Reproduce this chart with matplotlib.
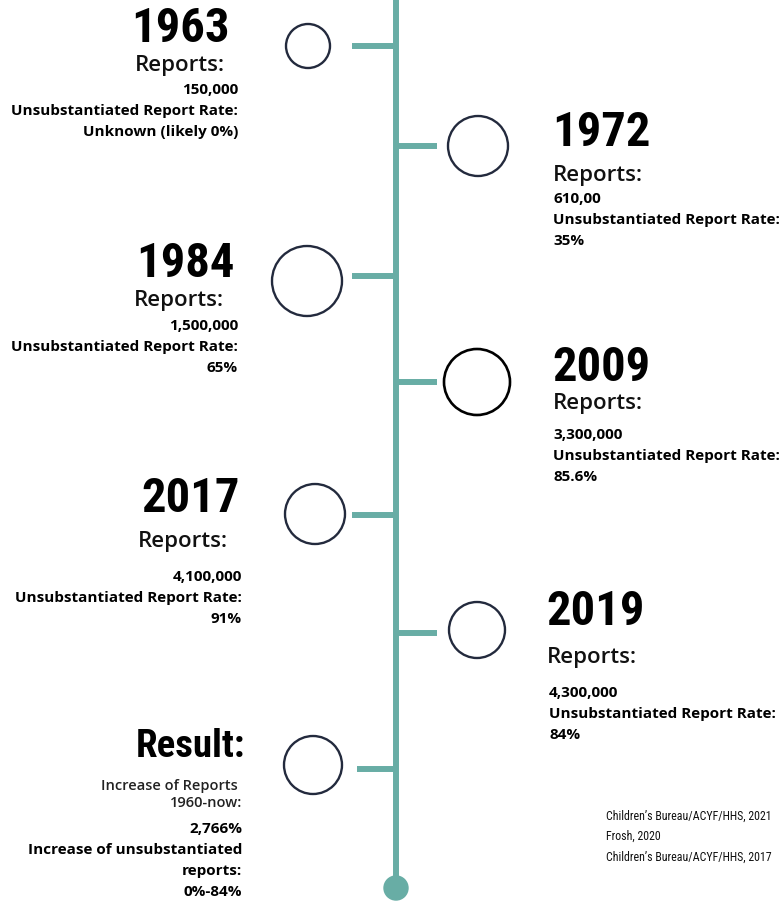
import matplotlib
matplotlib.use("Agg")
import matplotlib.pyplot as plt
from matplotlib import font_manager
from matplotlib.patches import Circle

# timeline content
years = ["1963", "1972", "1984", "2009", "2017", "2019"]
reports = ["150,000", "610,00", "1,500,000", "3,300,000", "4,100,000", "4,300,000"]
rates = ["Unknown (likely 0%)", "35%", "65%", "85.6%", "91%", "84%"]
rate_label = "Unsubstantiated Report Rate:"
result_lines = ["2,766%", "Increase of unsubstantiated", "reports:", "0%-84%"]
sources = ["Children\u2019s Bureau/ACYF/HHS, 2021", "Frosh, 2020",
           "Children\u2019s Bureau/ACYF/HHS, 2017"]

# layout (pixels)
sides = ["L", "R", "L", "R", "L", "R"]
tick_y = [47, 147, 277, 383, 516, 634]
circ_x = [308, 478, 307, 477, 315, 477]
circ_y = [47, 147, 282, 383, 515, 631]
circ_r = [22, 30, 35, 33, 30, 28]
year_y = [29, 133, 264, 368, 499, 612]
rep_y = [65, 175, 301, 404, 542, 658]
val_y = [90, 199, 326, 435, 577, 693]
year_x = [230, 552, 235, 552, 240, 546]
rep_x = [225, 553, 224, 553, 228, 547]
val_x = [238, 553, 238, 553, 242, 549]

available = {f.name for f in font_manager.fontManager.ttflist}


def pick(*names):
    for n in names:
        if n in available:
            return n
    return "DejaVu Sans"


cond = pick("Roboto Condensed", "Liberation Sans Narrow", "Roboto")
sans = pick("Open Sans", "Lato", "Roboto")
body = pick("Open Sans", "Lato", "Noto Sans")

teal = "#68ada5"
navy = "#232a3d"

fig = plt.figure(figsize=(7.82, 9.03), dpi=100)
ax = fig.add_axes([0, 0, 1, 1])
ax.set_xlim(0, 782)
ax.set_ylim(903, 0)
ax.axis("off")

ax.plot([396, 396], [0, 885], color=teal, lw=4.3, solid_capstyle="butt", zorder=1)
ax.add_patch(Circle((396, 889), 12, color=teal, zorder=2))

for i in range(len(years)):
    if sides[i] == "L":
        ax.plot([352, 396], [tick_y[i], tick_y[i]], color=teal, lw=4.3,
                solid_capstyle="butt")
        ha = "right"
    else:
        ax.plot([396, 437], [tick_y[i], tick_y[i]], color=teal, lw=4.3,
                solid_capstyle="butt")
        ha = "left"
    ec = "black" if years[i] == "2009" else navy
    ax.add_patch(Circle((circ_x[i], circ_y[i]), circ_r[i], fill=False, ec=ec,
                        lw=1.9 if years[i] == "2009" else 1.7))
    ax.text(year_x[i], year_y[i], years[i], ha=ha, va="center", fontsize=35,
            fontweight="bold", family=cond)
    ax.text(rep_x[i], rep_y[i], "Reports:", ha=ha, va="center", fontsize=16,
            fontweight="semibold", family=sans, color="#111111")
    for j, s in enumerate([reports[i], rate_label, rates[i]]):
        ax.text(val_x[i], val_y[i] + 21 * j, s, ha=ha, va="center",
                fontsize=11, fontweight="bold", family=body)

# result block
ax.plot([357, 396], [770, 770], color=teal, lw=4.3, solid_capstyle="butt")
ax.add_patch(Circle((313, 766), 29, fill=False, ec=navy, lw=1.7))
ax.text(245, 747, "Result:", ha="right", va="center", fontsize=28,
        fontweight="bold", family=cond)
ax.text(238, 786, "Increase of Reports", ha="right", va="center", fontsize=10.5,
        fontweight="semibold", family=sans, color="#222222")
ax.text(242, 803, "1960-now:", ha="right", va="center", fontsize=10.5,
        fontweight="semibold", family=sans, color="#222222")
for j, s in enumerate(result_lines):
    ax.text(242, 829 + 21 * j, s, ha="right", va="center", fontsize=11,
            fontweight="bold", family=body)

for j, s in enumerate(sources):
    ax.text(606, 816 + 20.5 * j, s, ha="left", va="center", fontsize=8.6,
            family=cond, color="#111111")

fig.savefig("out.png", dpi=100)
